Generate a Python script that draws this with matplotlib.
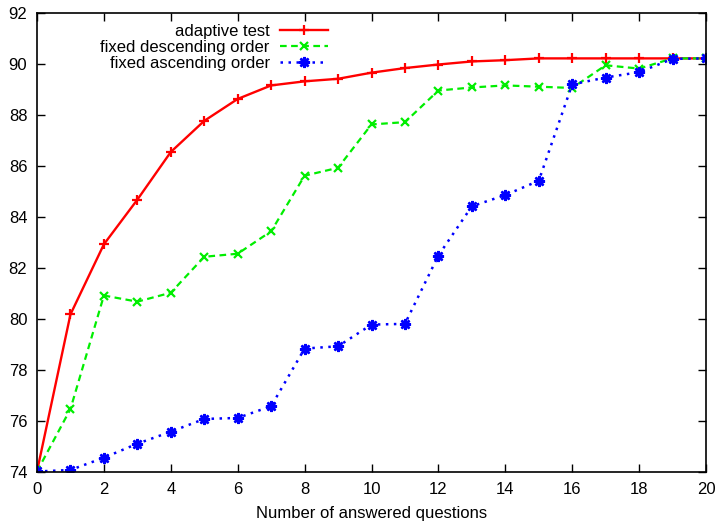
import matplotlib.pyplot as plt

plt.rcParams['font.family'] = ['Liberation Sans', 'DejaVu Sans']

questions = list(range(21))

# accuracy after n answered questions
adaptive = [74.02, 80.18, 82.93, 84.68, 86.55, 87.77, 88.63, 89.16, 89.32, 89.42,
            89.66, 89.84, 89.98, 90.10, 90.15, 90.22, 90.22, 90.22, 90.22, 90.22, 90.22]
descending = [74.02, 76.47, 80.92, 80.68, 81.03, 82.44, 82.56, 83.44, 85.62, 85.93,
              87.63, 87.72, 88.96, 89.08, 89.16, 89.11, 89.06, 89.95, 89.82, 90.22, 90.22]
ascending = [74.02, 74.08, 74.56, 75.11, 75.58, 76.08, 76.12, 76.58, 78.84, 78.93,
             79.78, 79.81, 82.49, 84.42, 84.86, 85.42, 89.20, 89.47, 89.68, 90.20, 90.22]

labels = ['adaptive test', 'fixed descending order', 'fixed ascending order']

fig = plt.figure(figsize=(7.18, 5.24), dpi=100)
ax = fig.add_axes([37 / 718, 52 / 524, 669 / 718, 459 / 524])

ax.plot(questions, adaptive, color='#ff0000', linestyle='-', linewidth=1.7,
        marker='+', markersize=7, markeredgewidth=1.6, label=labels[0])
ax.plot(questions, descending, color='#00ee00', linestyle=(0, (3, 2)), linewidth=1.6,
        marker='x', markersize=6, markeredgewidth=1.6, label=labels[1])
ax.plot(questions, ascending, color='#0000ff', linestyle=(0, (1, 2.2)), linewidth=1.8,
        marker=(8, 2, 0), markersize=8, markeredgewidth=1.8, label=labels[2])

ax.set_xlim(0, 20)
ax.set_ylim(74, 92)
ax.set_xticks(range(0, 21, 2))
ax.set_yticks(range(74, 93, 2))
ax.tick_params(direction='in', top=True, right=True, length=6, width=1,
               labelsize=12, pad=7)
for s in ax.spines.values():
    s.set_linewidth(1.2)

ax.set_xlabel('Number of answered questions', fontsize=12, labelpad=7)

ax.legend(loc='upper right', bbox_to_anchor=(0.455, 1.005), frameon=False,
          markerfirst=False, fontsize=12, handlelength=2.9,
          labelspacing=0.05, handletextpad=0.6, borderpad=0.3)

fig.savefig('out.png', dpi=100)
